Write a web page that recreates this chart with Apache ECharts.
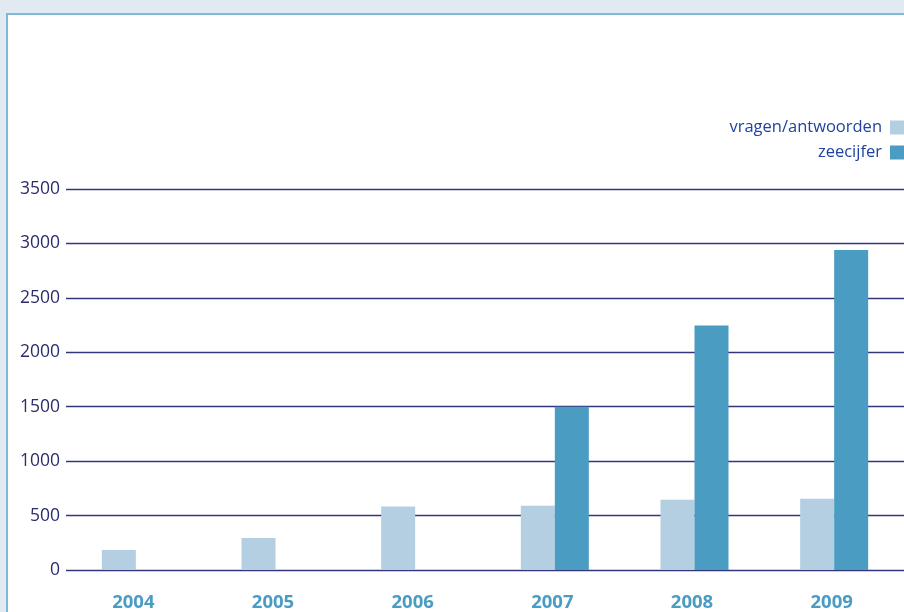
<!DOCTYPE html>
<html>
<head>
<meta charset="utf-8">
<script src="https://cdn.jsdelivr.net/npm/echarts@6/dist/echarts.min.js"></script>
<style>
  html, body { margin: 0; padding: 0; background: #e1e9f1; }
  #chart { width: 904px; height: 612px; }
</style>
</head>
<body>
<div id="chart"></div>
<script>
// Jaren en aantallen per reeks
const years = ['2004', '2005', '2006', '2007', '2008', '2009'];
const vragenAntwoorden = [184, 294, 583, 590, 646, 655];
const zeecijfer = [null, null, null, 1500, 2245, 2940];
const yTicks = { min: 0, max: 3500, interval: 500 };

const chart = echarts.init(document.getElementById('chart'), null, { renderer: 'canvas' });

const option = {
  backgroundColor: '#e1e9f1',
  animation: false,
  graphic: [
    {
      type: 'rect',
      z: -10,
      shape: { x: 7, y: 14, width: 910, height: 620 },
      style: { fill: '#ffffff', stroke: '#7cbad6', lineWidth: 2 }
    }
  ],
  legend: {
    orient: 'vertical',
    right: 0,
    top: 119,
    padding: 0,
    align: 'right',
    itemWidth: 14,
    itemHeight: 14,
    itemGap: 8,
    icon: 'rect',
    textStyle: { color: '#1f43a0', fontSize: 16.5, fontFamily: 'Open Sans', padding: [0, 3, 0, 0] },
    data: ['vragen/antwoorden', 'zeecijfer']
  },
  grid: { left: 66, right: -2, top: 189, bottom: 41.7, containLabel: false },
  xAxis: {
    type: 'category',
    data: years,
    axisLine: { show: false },
    axisTick: { show: false },
    axisLabel: {
      color: '#4a9cc2',
      fontSize: 18.5,
      fontWeight: 'bold',
      fontFamily: 'Open Sans',
      margin: 23,
      padding: [0, 5, 0, 0]
    }
  },
  yAxis: {
    type: 'value',
    min: yTicks.min,
    max: yTicks.max,
    interval: yTicks.interval,
    axisLine: { show: false },
    axisTick: { show: false },
    axisLabel: {
      color: '#2b2d6b',
      fontSize: 17.5,
      fontFamily: 'Open Sans',
      margin: 6,
      formatter: function (v) { return String(v); }
    },
    splitLine: { lineStyle: { color: '#33377a', width: 1.3 } }
  },
  series: [
    {
      name: 'vragen/antwoorden',
      type: 'bar',
      data: vragenAntwoorden,
      barWidth: 34,
      barGap: '0%',
      itemStyle: { color: '#b3cfe1' },
      z: 1
    },
    {
      name: 'zeecijfer',
      type: 'bar',
      data: zeecijfer,
      barWidth: 34,
      barGap: '0%',
      itemStyle: { color: '#4a9cc2' },
      z: 1
    }
  ]
};

chart.setOption(option);
</script>
</body>
</html>
